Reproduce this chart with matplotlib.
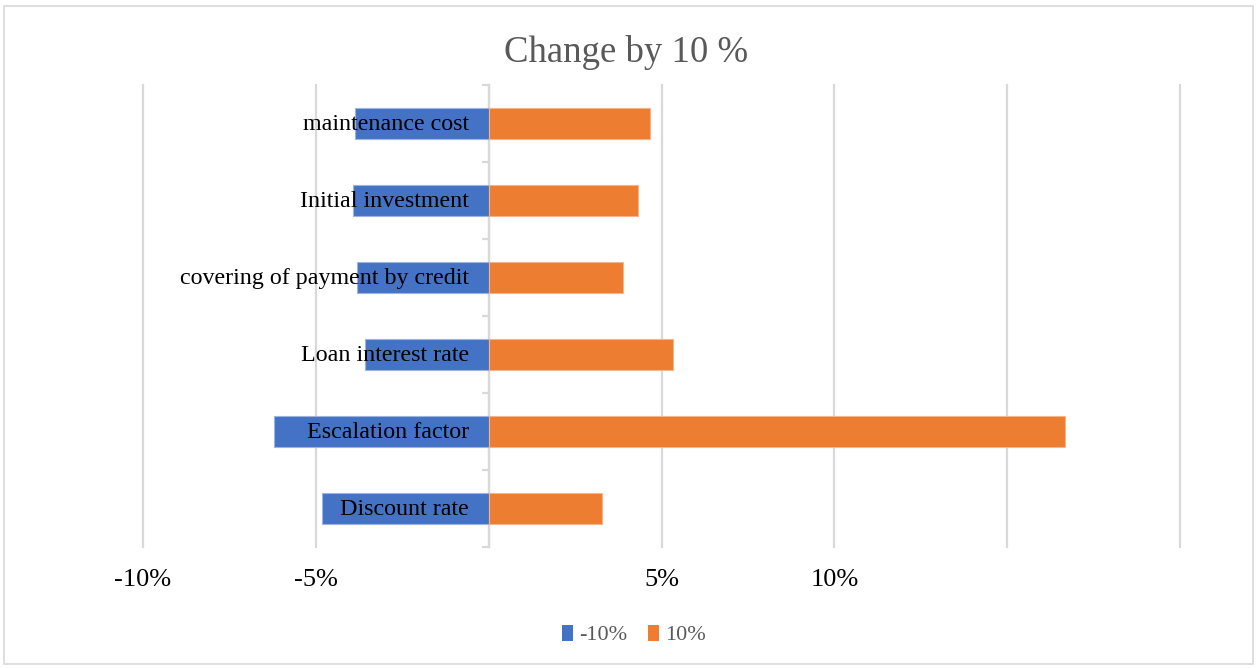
import matplotlib
matplotlib.use("Agg")
import matplotlib.pyplot as plt
from matplotlib.patches import Rectangle, Patch

# Sensitivity of the result to a 10 % change in each parameter
categories = ["Discount rate", "Escalation factor", "Loan interest rate",
              "covering of payment by credit", "Initial investment", "maintenance cost"]
minus_10 = [-4.82, -6.20, -3.57, -3.81, -3.93, -3.86]
plus_10 = [3.27, 16.67, 5.32, 3.90, 4.32, 4.67]
series_names = ["-10%", "10%"]
x_ticks = [-10, -5, 0, 5, 10, 15, 20]
x_tick_labels = ["-10%", "-5%", "", "5%", "10%", "", ""]

BLUE = "#4472C4"
ORANGE = "#ED7D31"
GRID = "#D9D9D9"
TEXT_GRAY = "#595959"
SERIF = ["Liberation Serif", "DejaVu Serif"]

fig = plt.figure(figsize=(12.59, 6.68), dpi=100)
ax = fig.add_axes([143 / 1259, 1 - 547 / 668, (1180 - 143) / 1259, (547 - 85) / 668])

ypos = list(range(len(categories)))
ax.barh(ypos, minus_10, height=0.4, color=BLUE, edgecolor="#9DB4E0", linewidth=0.8, zorder=2)
ax.barh(ypos, plus_10, height=0.4, color=ORANGE, edgecolor="#F5B38A", linewidth=0.8, zorder=2)

ax.set_xlim(-10, 20)
ax.set_ylim(-0.5, len(categories) - 0.5)

# vertical gridlines behind the bars
ax.set_axisbelow(True)
ax.set_xticks(x_ticks)
ax.set_xticklabels(x_tick_labels, fontsize=19, family=SERIF, color="black")
ax.xaxis.grid(True, color=GRID, linewidth=1.6)
for gl in ax.get_xgridlines():
    gl.set_clip_on(False)
ax.tick_params(axis="x", length=0, pad=15.5)

# category axis drawn at zero with tick marks between categories
for s in ["top", "right", "bottom"]:
    ax.spines[s].set_visible(False)
ax.spines["left"].set_position(("data", 0))
ax.spines["left"].set_color(GRID)
ax.spines["left"].set_linewidth(1.6)
ax.spines["left"].set_zorder(1)
ax.set_yticks([])
ax.set_yticks([i - 0.5 for i in range(len(categories) + 1)], minor=True)
ax.tick_params(axis="y", which="minor", length=5, width=1.6, color=GRID, direction="out")

for i, name in enumerate(categories):
    ax.annotate(name, xy=(0, i), xytext=(-20, -1), textcoords="offset pixels",
                ha="right", va="center", fontsize=17.3, family=SERIF,
                color="black", zorder=5)

fig.text(0.497, 1 - 52 / 668, "Change by 10 %", ha="center", va="center",
         fontsize=26.5, family=SERIF, color=TEXT_GRAY)

handles = [Patch(facecolor=BLUE), Patch(facecolor=ORANGE)]
leg = fig.legend(handles, series_names, loc="center", bbox_to_anchor=(0.5036, 1 - 635 / 668),
                 ncol=2, frameon=False, handlelength=0.5, handleheight=0.75,
                 handletextpad=0.3, columnspacing=0.9,
                 prop={"family": SERIF, "size": 16})
for t in leg.get_texts():
    t.set_color(TEXT_GRAY)

fig.patches.append(Rectangle((4 / 1259, 1 - 664 / 668), 1249 / 1259, 658 / 668,
                             transform=fig.transFigure, fill=False,
                             edgecolor=GRID, linewidth=1.2))

fig.savefig("out.png", dpi=100, facecolor="white")
